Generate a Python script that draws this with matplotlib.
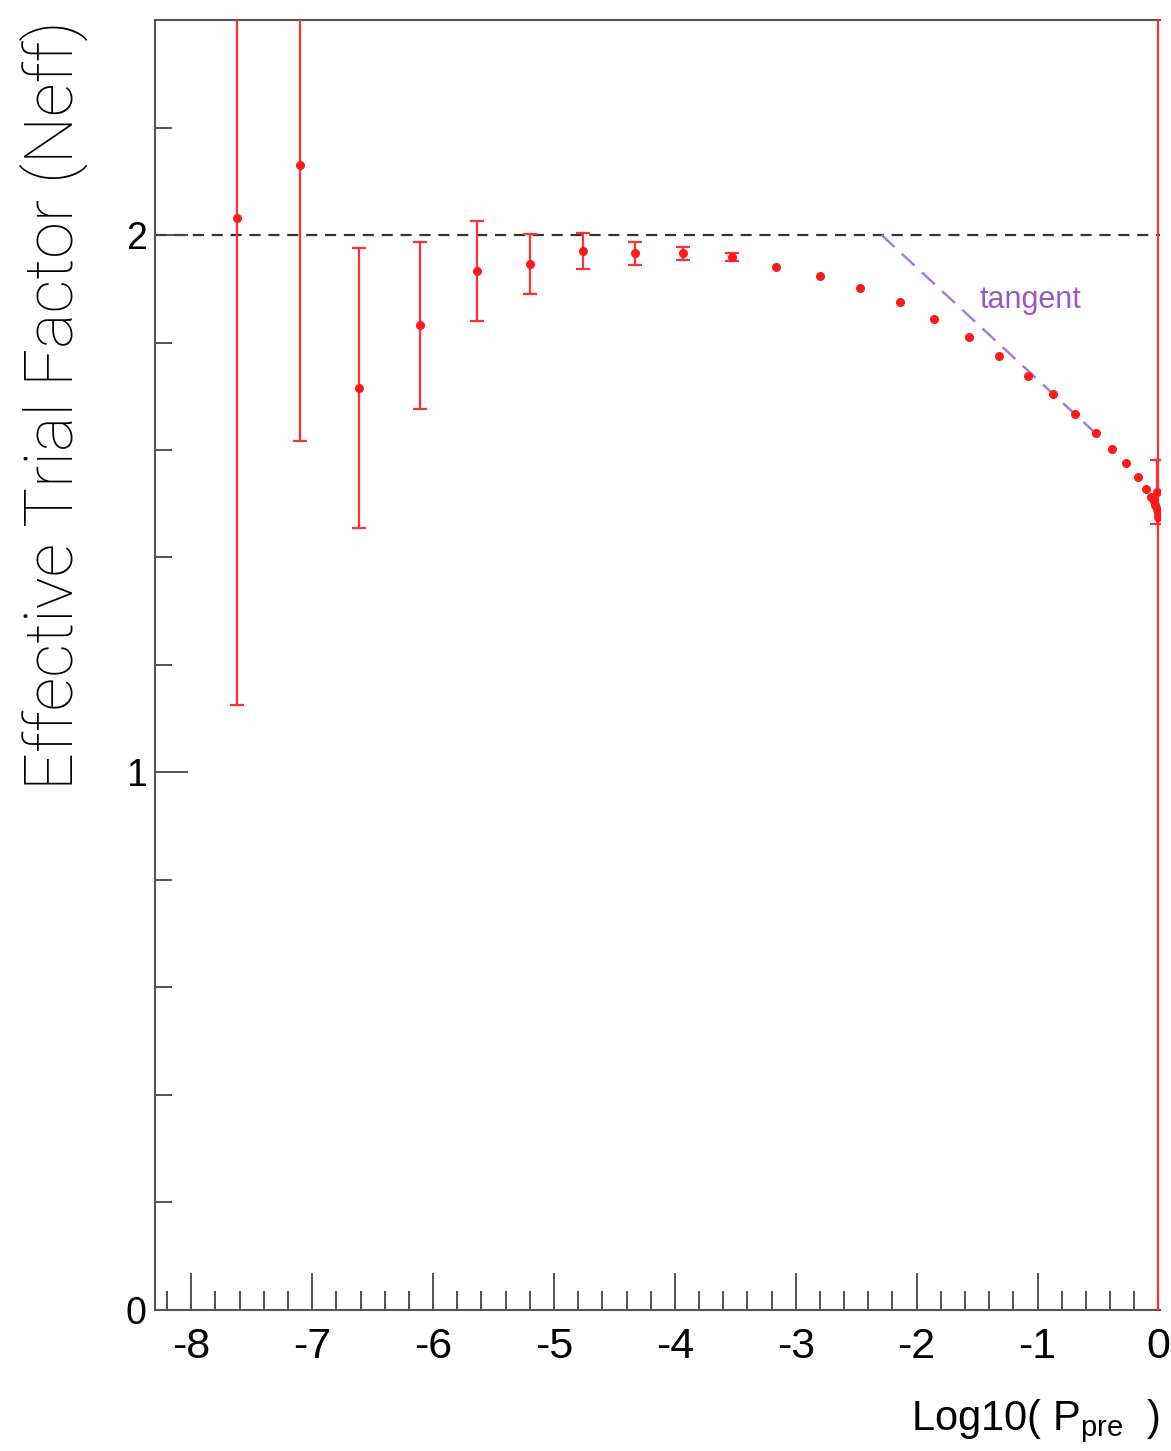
import numpy as np
import matplotlib
matplotlib.use("Agg")
import matplotlib.pyplot as plt
from matplotlib import rcParams
from matplotlib.ticker import MultipleLocator

rcParams['font.family'] = ['Liberation Sans', 'DejaVu Sans']
rcParams['mathtext.fontset'] = 'custom'
rcParams['mathtext.rm'] = 'Liberation Sans'

# Neff vs log10(P_pre)
log_p = [-7.62, -7.10, -6.61, -6.11, -5.64, -5.20, -4.76, -4.33, -3.93, -3.53,
         -3.16, -2.80, -2.47, -2.14, -1.86, -1.57, -1.32, -1.08, -0.87, -0.69,
         -0.52, -0.38, -0.265, -0.17, -0.10, -0.058, -0.04, -0.025, -0.015,
         -0.011, -0.005, 0.0]
neff = [2.032, 2.130, 1.715, 1.832, 1.933, 1.946, 1.970, 1.966, 1.966, 1.959,
        1.940, 1.924, 1.901, 1.875, 1.844, 1.810, 1.775, 1.737, 1.704, 1.667,
        1.631, 1.601, 1.575, 1.549, 1.527, 1.513, 1.506, 1.498, 1.490,
        1.522, 1.482, 1.476]
neff_err = [0.907, 0.514, 0.261, 0.155, 0.093, 0.055, 0.034, 0.021, 0.012, 0.008,
            0.0, 0.0, 0.0, 0.0, 0.0, 0.0, 0.0, 0.0, 0.0, 0.0,
            0.0, 0.0, 0.0, 0.0, 0.0, 0.0, 0.0, 0.0, 0.0,
            0.059, 0.0, 3.0]

ref_level = 2.0
tangent_x = [-2.29, -0.51]
tangent_y = [2.0, 1.629]

x = np.array(log_p)
y = np.array(neff)
e = np.array(neff_err)
has_err = e > 0

fig = plt.figure(figsize=(11.71, 14.51), dpi=100)
ax = fig.add_axes([0.1324, 0.0972, 0.8583, 0.889])

ax.axhline(ref_level, color='#333333', lw=1.6, ls=(0, (5, 3.5)), zorder=1)
ax.plot(tangent_x, tangent_y, color='#a57fd6', lw=1.8, ls=(0, (7, 4)), zorder=1)

# points with error bars
ax.errorbar(x[has_err], y[has_err], yerr=e[has_err], fmt='o', color='#ff1a1a', ms=5.5,
            ecolor='#ff3030', elinewidth=1.6, capsize=5, capthick=1.6, zorder=3)
# points whose errors are too small to see
ax.plot(x[~has_err], y[~has_err], 'o', color='#ff1a1a', ms=5.5, zorder=3)

ax.text(-1.06, 1.88, 'tangent', color='#9b59c0', fontsize=22,
        ha='center', va='center')

ax.set_ylim(0, 2.4)

ax.xaxis.set_major_locator(MultipleLocator(1))
ax.xaxis.set_minor_locator(MultipleLocator(0.2))
ax.yaxis.set_major_locator(MultipleLocator(1))
ax.yaxis.set_minor_locator(MultipleLocator(0.2))

ax.tick_params(axis='x', which='major', direction='in', length=27, width=1.3,
               colors='#444444', labelcolor='black', labelsize=31, pad=12)
ax.tick_params(axis='x', which='minor', direction='in', length=14, width=1.3,
               colors='#444444')
ax.tick_params(axis='y', which='major', direction='in', length=24, width=1.3,
               colors='#444444', labelcolor='black', labelsize=27, pad=6)
ax.tick_params(axis='y', which='minor', direction='in', length=12, width=1.3,
               colors='#444444')
ax.set_xticks(np.arange(-8, 1))
ax.set_xticklabels([f"{t}" for t in range(-8, 1)])

for side in ['left', 'bottom', 'top']:
    ax.spines[side].set_color('#555555')
    ax.spines[side].set_linewidth(1.5)
ax.spines['right'].set_visible(False)
ax.set_xlim(-8.3, 0.014)

ax.set_ylabel('Effective Trial Factor (Neff)', fontsize=48, family=['Roboto', 'DejaVu Sans'],
              fontweight='light', loc='top', labelpad=27)
ax.set_xlabel(r'Log10( P$_{\mathregular{pre}}$  )', fontsize=30, loc='right', labelpad=22)

plt.savefig('out.png', dpi=100)
